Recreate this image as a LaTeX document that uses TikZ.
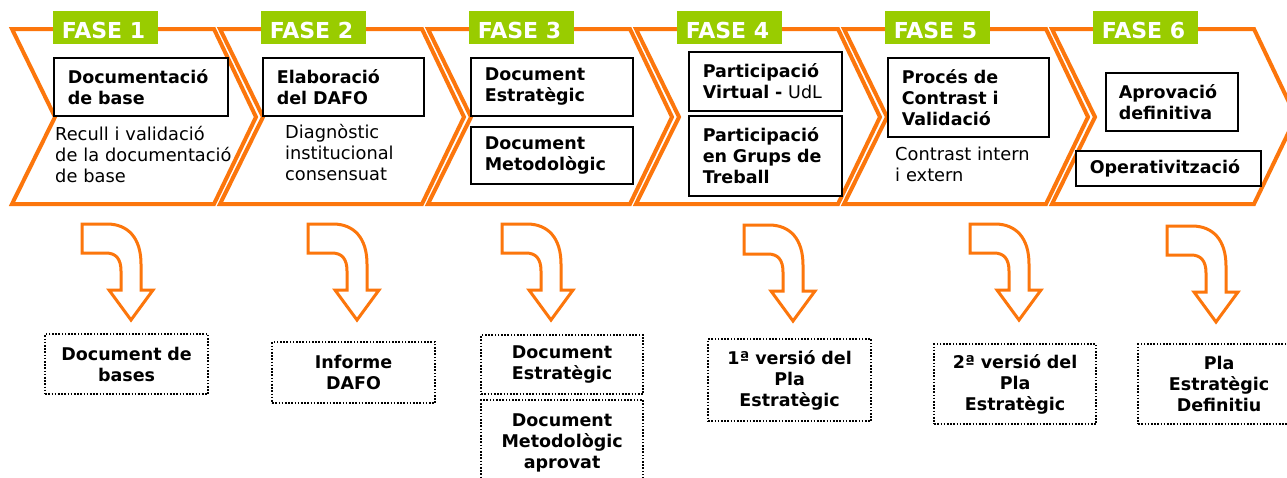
\documentclass[tikz,border=0pt]{standalone}
\usepackage{fontspec}
\setmainfont{DejaVu Sans}
\definecolor{fo}{RGB}{252,118,12}
\definecolor{fg}{RGB}{153,204,0}
\tikzset{
  chev/.style={draw=fo, line width=4pt, fill=white, line join=miter},
  fasebox/.style={fill=fg, minimum width=105pt, minimum height=33pt, inner sep=0pt, anchor=north west},
  fasetxt/.style={text=white, font=\fontsize{22}{26}\selectfont\bfseries, anchor=base, inner sep=0pt},
  ibox/.style={draw=black, line width=1.6pt, fill=white, anchor=north west, inner xsep=14pt, inner ysep=0pt, align=left, font=\fontsize{17.5}{21}\selectfont\bfseries},
  subtxt/.style={anchor=base west, inner sep=0pt, align=left, text width=200pt, font=\fontsize{17.8}{21.3}\selectfont},
  outbox/.style={draw=black, line width=2.2pt, dash pattern=on 1.6pt off 1.6pt, anchor=north west, inner xsep=4pt, inner ysep=0pt, align=center, font=\fontsize{17.5}{21}\selectfont\bfseries},
  carrow/.style={draw=fo, line width=3pt, fill=white, line join=miter},
}
\begin{document}
\begin{tikzpicture}[x=1pt,y=-1pt]
\useasboundingbox (0,0) rectangle (1287,477);
\clip (0,0) rectangle (1287,477);
\fill[white] (0,0) rectangle (1287,477);

% chevrons
\foreach \x in {12,220,428,636,844,1052}{
  \draw[chev] (\x,29) -- ++(202,0) -- ++(42,88) -- ++(-42,87) -- ++(-202,0) -- ++(43,-87) -- cycle;
}

% phase labels
\foreach \x/\n in {12/1,220/2,428/3,636/4,844/5,1052/6}{
  \node[fasebox] (fb\n) at (\x+41,11) {};
  \node[fasetxt] (ft\n) at (\x+91.5,38.5) {FASE \n};
}

% phase 1
\node[ibox, minimum width=174pt, minimum height=58pt, text width=146pt] (p1a) at (53,57) {Documentació\\de base};
\node[subtxt] (p1s) at (55,140) {Recull i validació\\de la documentació\\de base};

% phase 2
\node[ibox, minimum width=161pt, minimum height=58pt, text width=133pt] (p2a) at (262,57) {Elaboració\\del DAFO};
\node[subtxt] (p2s) at (285,138) {Diagnòstic\\institucional\\consensuat};

% phase 3
\node[ibox, minimum width=162pt, minimum height=58pt, text width=134pt] (p3a) at (470,57) {Document\\Estratègic};
\node[ibox, minimum width=162pt, minimum height=57pt, text width=134pt] (p3b) at (470,126) {Document\\Metodològic};

% phase 4
\node[ibox, minimum width=153pt, minimum height=59pt, text width=125pt] (p4a) at (688,51) {Participació\\Virtual - \mdseries UdL};
\node[ibox, minimum width=153pt, minimum height=80pt, text width=125pt] (p4b) at (688,115) {Participació\\en Grups de\\Treball};

% phase 5
\node[ibox, minimum width=161pt, minimum height=79pt, text width=133pt] (p5a) at (887,57) {Procés de\\Contrast i\\Validació};
\node[subtxt] (p5s) at (895,160) {Contrast intern\\i extern};

% phase 6
\node[ibox, minimum width=132pt, minimum height=58pt, text width=106pt, inner xsep=13pt] (p6a) at (1105,72) {Aprovació\\definitiva};
\node[ibox, minimum width=185pt, minimum height=35pt, text width=157pt, inner xsep=14pt] (p6b) at (1075,150) {Operativització};

% curved arrows
\foreach \ax/\ay in {82/224,308/224,502/224,744/225,970/224,1167/226}{
  \draw[carrow, shift={(\ax,\ay)}] (0,0) -- (25,0) .. controls (46,0) and (59,14) .. (59,40)
    -- (59,66) -- (71,66) -- (49,96) -- (27,66) -- (39,66) -- (39,47)
    .. controls (39,35) and (34,29) .. (24,29) -- (0,29) -- cycle;
}

% output boxes
\node[outbox, minimum width=163pt, minimum height=60pt, text width=155pt] (o1) at (44,333) {Document de\\bases};
\node[outbox, minimum width=163pt, minimum height=61pt, text width=155pt] (o2) at (271,341) {Informe\\DAFO};
\node[outbox, minimum width=162pt, minimum height=59pt, text width=154pt] (o3a) at (480,334) {Document\\Estratègic};
\node[outbox, minimum width=162pt, minimum height=86pt, text width=154pt] (o3b) at (480,399) {Document\\Metodològic\\aprovat};
\node[outbox, minimum width=163pt, minimum height=82pt, text width=155pt] (o4) at (707,338) {1ª versió del\\Pla\\Estratègic};
\node[outbox, minimum width=162pt, minimum height=80pt, text width=154pt] (o5) at (933,343) {2ª versió del\\Pla\\Estratègic};
\node[outbox, minimum width=162pt, minimum height=80pt, text width=154pt] (o6) at (1137,343) {Pla\\Estratègic\\Definitiu};
\end{tikzpicture}
\end{document}
